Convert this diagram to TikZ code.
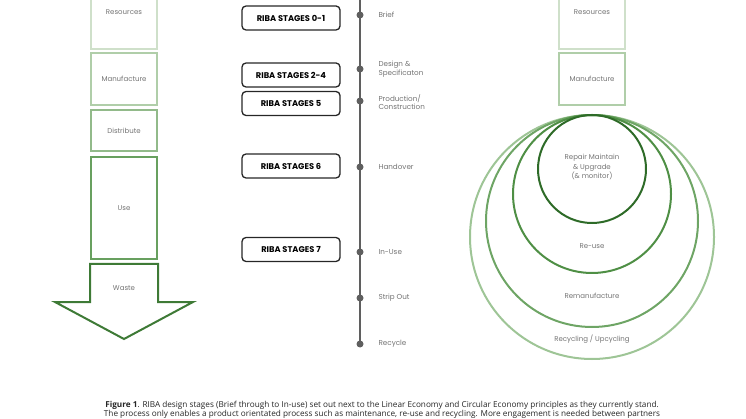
\documentclass[tikz,border=0pt]{standalone}
\usepackage{fontspec}
\setmainfont{Poppins}
\newfontfamily\capfont{Open Sans}
\usetikzlibrary{positioning}
\definecolor{resGreen}{RGB}{207, 224, 202}
\definecolor{manGreen}{RGB}{176, 206, 169}
\definecolor{disGreen}{RGB}{146, 186, 138}
\definecolor{useGreen}{RGB}{104, 160, 95}
\definecolor{wasteGreen}{RGB}{62, 122, 54}
\definecolor{ringOne}{RGB}{46, 107, 40}
\definecolor{ringTwo}{RGB}{79, 143, 69}
\definecolor{ringThree}{RGB}{110, 165, 101}
\definecolor{ringFour}{RGB}{158, 197, 150}
\definecolor{lineGray}{RGB}{95, 95, 95}
\definecolor{textGray}{RGB}{115, 115, 115}

\begin{document}
\begin{tikzpicture}
  [
    x=1pt, y=-1pt,
    Box/.style={rectangle, line width=2pt, minimum width=66pt, inner sep=0pt, text=textGray, font=\fontsize{7}{8}\selectfont},
    Stage/.style={rectangle, rounded corners=4pt, draw=black!85, line width=1.3pt, minimum width=98pt, minimum height=24pt, font=\bfseries\fontsize{8.3}{9}\selectfont},
    Dot/.style={circle, fill=lineGray, inner sep=0pt, minimum size=7pt},
    Step/.style={anchor=west, align=left, text=textGray, font=\fontsize{7.2}{8.6}\selectfont},
    Ring/.style={line width=2pt},
    Txt/.style={text=textGray, align=center, font=\fontsize{7}{9.5}\selectfont},
    Caption/.style={text=black!85, font=\capfont\fontsize{8.2}{9}\selectfont}
  ]
  \clip (0,0) rectangle (746,419);
  \useasboundingbox (0,0) rectangle (746,419);

  % Linear economy
  \node[Box, draw=resGreen, minimum height=74pt] (res) at (124, 12) {Resources};
  \node[Box, draw=manGreen, minimum height=52pt] (man) at (124, 79) {Manufacture};
  \node[Box, draw=disGreen, minimum height=41pt] (dis) at (124, 130.5) {Distribute};
  \node[Box, draw=useGreen, minimum height=102pt] (use) at (124, 208) {Use};
  \draw[wasteGreen, line width=2pt, line join=miter]
    (90, 264) -- (158, 264) -- (158, 302) -- (193, 302) -- (124, 339)
    -- (55, 302) -- (90, 302) -- cycle;
  \node[Txt] (waste) at (124, 288) {Waste};

  % RIBA stages
  \node[Stage] (s01) at (291, 18) {RIBA STAGES 0-1};
  \node[Stage] (s24) at (291, 75) {RIBA STAGES 2-4};
  \node[Stage] (s5) at (291, 103.5) {RIBA STAGES 5};
  \node[Stage] (s6) at (291, 166) {RIBA STAGES 6};
  \node[Stage] (s7) at (291, 249.5) {RIBA STAGES 7};

  % Timeline
  \coordinate (top) at (360, -5);
  \node[Dot] (d1) at (360, 15) {};
  \node[Dot] (d2) at (360, 69) {};
  \node[Dot] (d3) at (360, 101) {};
  \node[Dot] (d4) at (360, 167) {};
  \node[Dot] (d5) at (360, 252) {};
  \node[Dot] (d6) at (360, 298) {};
  \node[Dot] (d7) at (360, 344) {};
  \path [draw, lineGray, line width=2.6pt] (top) -- (d7.center);
  \node[Step] (brief) at (375, 15) {Brief};
  \node[Step] (design) at (375, 69) {Design \&\\Specificaton};
  \node[Step] (prod) at (375, 102) {Production/\\Construction};
  \node[Step] (hand) at (375, 167) {Handover};
  \node[Step] (inuse) at (375, 252) {In-Use};
  \node[Step] (strip) at (375, 298) {Strip Out};
  \node[Step] (recyc) at (375, 344) {Recycle};

  % Circular economy
  \node[Box, draw=resGreen, minimum height=74pt] (cres) at (592, 12) {Resources};
  \node[Box, draw=manGreen, minimum height=52pt] (cman) at (592, 79) {Manufacture};
  \draw[Ring, ringFour] (592, 237) circle (122);
  \draw[Ring, ringThree] (592, 221) circle (106);
  \draw[Ring, ringTwo] (592, 194) circle (79);
  \draw[Ring, ringOne] (592, 169) circle (54);
  \node[Txt] (repair) at (592, 167) {Repair Maintain\\\& Upgrade\\(\& monitor)};
  \node[Txt] (reuse) at (592, 246) {Re-use};
  \node[Txt] (reman) at (592, 296) {Remanufacture};
  \node[Txt] (recup) at (592, 339) {Recycling / Upcycling};

  % Caption
  \node[Caption] (cap1) at (382, 405) {\textbf{Figure 1}. RIBA design stages (Brief through to In-use) set out next to the Linear Economy and Circular Economy principles as they currently stand.};
  \node[Caption] (cap2) at (382, 414) {The process only enables a product orientated process such as maintenance, re-use and recycling. More engagement is needed between partners};
\end{tikzpicture}
\end{document}
